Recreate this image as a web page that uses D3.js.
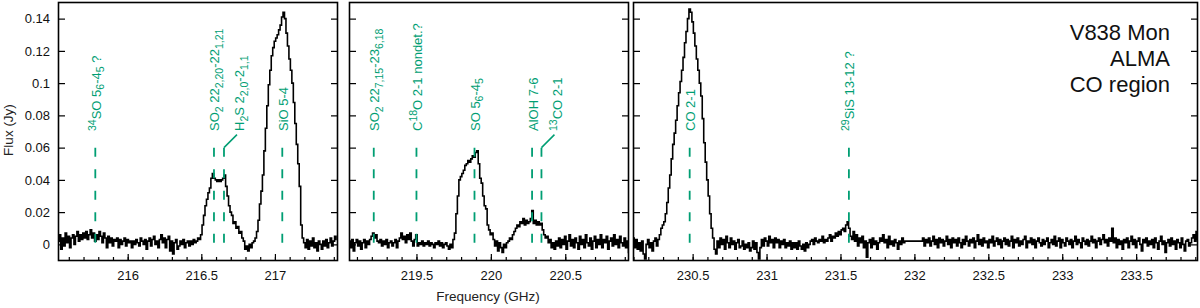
<!DOCTYPE html>
<html><head><meta charset="utf-8">
<script src="https://cdn.jsdelivr.net/npm/d3@7/dist/d3.min.js"></script>
<style>body{margin:0;background:#fff}svg{display:block;font-family:"Liberation Sans",Arial,sans-serif}</style>
</head><body><svg id="c" width="1200" height="308"></svg>
<script>
// ---- data ----
const chanStep = 0.01;               // channel width (GHz)
const p1Start = 215.53, p2Start = 219.05, p3Start = 230.10;
const flux1 = [
0.002,0.006,-0.003,0.004,-0.001,0.007,0.001,0.005,-0.002,0.004,
0.006,0.000,0.005,0.008,0.002,0.006,0.003,0.007,0.004,0.008,
0.003,0.006,0.009,0.004,0.007,0.002,0.006,0.003,0.008,0.005,
0.001,0.007,0.004,-0.002,0.005,0.001,0.004,-0.001,0.003,0.002,
0.004,-0.002,0.003,0.000,0.002,0.004,-0.001,0.003,0.001,0.002,
-0.002,0.002,0.000,0.003,0.001,-0.001,0.004,0.002,0.000,0.003,
-0.003,0.002,0.004,-0.001,0.003,0.005,0.000,0.002,-0.002,0.003,
0.006,0.001,0.004,-0.002,0.003,0.005,-0.004,0.002,-0.006,0.001,
0.003,-0.003,-0.001,0.002,0.000,0.003,-0.002,0.001,0.002,-0.001,
0.002,0.000,0.003,0.001,0.002,0.004,0.003,0.006,0.012,0.018,
0.024,0.028,0.032,0.035,0.041,0.044,0.041,0.040,0.039,0.040,
0.039,0.040,0.041,0.043,0.036,0.030,0.024,0.020,0.018,0.013,
0.014,0.010,0.011,0.007,0.008,0.004,0.002,-0.003,-0.001,-0.004,
0.000,-0.002,0.001,0.002,0.004,0.008,0.015,0.025,0.033,0.043,
0.058,0.072,0.086,0.099,0.108,0.117,0.122,0.126,0.128,0.130,
0.133,0.136,0.141,0.144,0.140,0.131,0.123,0.115,0.108,0.100,
0.088,0.075,0.062,0.050,0.036,0.012,0.004,0.001,-0.002,0.003,
-0.003,0.002,-0.001,0.004,-0.002,0.001,-0.004,0.002,0.000,-0.003,
0.002,-0.001,0.003,-0.002,0.001,0.004,-0.001,0.002,0.005,0.003];
const flux2 = [
0.002,-0.002,0.003,-0.004,0.001,0.003,-0.001,0.002,-0.003,0.001,
0.003,-0.002,0.002,0.000,0.003,0.005,0.007,0.004,0.006,0.002,
0.001,0.003,-0.001,0.002,0.000,0.003,-0.002,0.001,0.002,-0.001,
0.001,0.003,-0.002,0.002,0.004,0.007,0.003,0.005,0.001,0.006,
0.003,0.007,0.002,-0.001,0.003,0.006,-0.001,0.001,0.000,0.002,
-0.001,0.001,0.000,0.002,-0.001,0.001,0.000,-0.002,0.001,0.000,
0.002,-0.001,0.001,-0.002,0.000,0.001,-0.001,-0.003,0.000,-0.002,
0.003,0.007,0.019,0.030,0.040,0.042,0.044,0.046,0.049,0.050,
0.052,0.051,0.053,0.055,0.054,0.057,0.058,0.050,0.041,0.038,
0.030,0.024,0.022,0.012,0.009,0.006,0.007,0.003,-0.001,0.002,
-0.004,0.001,-0.002,-0.005,0.000,-0.002,0.001,0.002,0.004,0.003,
0.006,0.008,0.010,0.012,0.011,0.014,0.013,0.016,0.012,0.015,
0.013,0.014,0.016,0.021,0.013,0.015,0.012,0.014,0.012,0.013,
0.009,0.006,0.004,0.005,0.001,0.003,-0.002,0.001,-0.003,0.002,
-0.001,0.004,-0.002,0.003,0.000,0.005,-0.003,0.002,0.006,-0.001,
0.003,-0.002,0.004,0.001,-0.003,0.005,0.000,0.003,-0.002,0.006,
0.001,-0.001,0.004,-0.003,0.002,0.005,-0.002,0.003,0.000,0.006,
-0.002,0.003,0.001,0.005,-0.003,0.002,0.004,-0.001,0.006,0.000,
0.003,-0.002,0.005,0.001,-0.001,0.004,-0.002,0.002,-0.005,0.003];
const flux3 = [
0.004,-0.002,0.003,-0.003,0.001,-0.004,0.002,-0.006,-0.009,0.000,
0.003,-0.002,0.001,-0.004,0.002,0.004,-0.001,0.003,0.006,0.010,
0.012,0.014,0.019,0.026,0.035,0.043,0.053,0.062,0.069,0.077,
0.086,0.094,0.101,0.108,0.116,0.125,0.132,0.140,0.146,0.144,
0.138,0.131,0.123,0.115,0.108,0.100,0.092,0.078,0.063,0.051,
0.040,0.030,0.019,0.010,0.004,-0.003,-0.006,0.002,-0.002,0.004,
0.000,0.003,-0.003,0.005,0.001,-0.002,0.004,0.000,0.002,-0.003,
0.001,0.003,-0.002,-0.001,0.002,-0.003,0.000,-0.002,0.001,-0.004,
-0.002,0.002,-0.003,0.001,-0.005,-0.009,-0.002,0.003,-0.001,0.004,
0.002,-0.001,0.005,0.001,0.003,-0.002,0.004,0.001,0.003,-0.002,
0.002,0.000,0.003,-0.002,0.001,-0.001,0.002,-0.003,0.001,-0.002,
0.001,-0.003,0.002,-0.001,-0.003,0.000,-0.004,0.001,-0.002,0.000,
0.002,0.003,0.000,0.004,0.002,0.001,0.003,0.002,0.005,0.001,
0.003,0.002,0.004,0.006,0.002,0.005,0.004,0.007,0.005,0.008,
0.006,0.009,0.010,0.008,0.012,0.014,0.010,0.005,0.003,0.008,
0.002,0.006,-0.001,0.004,0.001,0.005,-0.002,0.002,-0.008,0.001,
0.003,-0.002,0.004,0.000,0.002,-0.003,0.001,0.004,0.002,0.006,
0.001,0.003,-0.002,0.005,0.000,0.002,-0.001,0.003,0.001,-0.003,
0.002,0.000,0.004,0.001,0.002,0.002,0.002,0.002,0.002,0.002,
0.002,0.002,0.002,0.002,0.002,0.002,0.004,-0.001,0.003,0.001,
0.004,-0.001,0.002,0.005,0.000,0.003,-0.002,0.004,0.001,0.003,
-0.001,0.002,0.005,0.000,0.003,-0.002,0.004,0.001,0.003,-0.001,
0.004,0.001,-0.002,0.003,0.000,0.005,0.002,-0.001,0.003,0.001,
0.004,-0.002,0.002,0.006,0.000,0.003,-0.001,0.004,0.001,0.002,
-0.002,0.003,0.001,0.005,-0.001,0.002,0.004,0.000,0.003,-0.002,
0.002,0.004,0.000,0.003,-0.001,0.002,0.005,-0.002,0.003,0.001,
0.004,-0.001,0.002,0.000,0.003,0.005,-0.002,0.002,0.001,0.004,
0.000,0.003,-0.002,0.002,0.004,0.001,-0.001,0.003,0.000,0.002,
0.004,-0.002,0.001,0.003,0.000,0.005,-0.001,0.002,0.004,-0.002,
0.003,0.001,-0.001,0.004,0.002,0.000,0.003,-0.002,0.002,0.005,
0.000,0.003,0.001,-0.002,0.004,0.002,0.000,0.003,-0.001,0.002,
0.005,0.001,0.003,-0.002,0.002,0.004,0.000,0.003,0.006,0.001,
0.003,-0.001,0.004,0.002,0.010,0.001,0.004,-0.002,0.003,0.000,
0.002,-0.003,0.003,0.001,0.004,-0.002,0.002,0.005,0.000,0.003,
-0.002,0.002,0.004,0.000,-0.004,0.003,0.001,0.004,-0.001,0.002,
0.000,0.003,-0.002,0.004,0.001,-0.003,0.002,0.005,0.000,0.002,
-0.005,0.001,0.003,-0.001,0.004,0.000,0.002,-0.003,0.003,0.001,
-0.002,0.004,0.000,-0.004,0.002,0.003,-0.001,0.001,0.004,0.006,
0.002,0.008,0.003];
const xTicks1 = [216, 216.5, 217];
const xTicks2 = [219.5, 220, 220.5];
const xTicks3 = [230.5, 231, 231.5, 232, 232.5, 233, 233.5];
const yTicks = [0, 0.02, 0.04, 0.06, 0.08, 0.1, 0.12, 0.14];
const yTickLabels = ["0","0.02","0.04","0.06","0.08","0.1","0.12","0.14"];
const lineFreq1 = [215.78, 216.586, 216.654, 217.05];
const lineLab1 = ["^{34}SO 5_{6}-4_{5} ?", "SO_{2} 22_{2,20}-22_{1,21}", "H_{2}S 2_{2,0}-2_{1,1}", "SiO 5-4"];
const lineLead1 = [false, false, true, false];
const lineFreq2 = [219.213, 219.50, 219.89, 220.277, 220.34];
const lineLab2 = ["SO_{2} 22_{7,15}-23_{6,18}", "C^{18}O 2-1 nondet.?", "SO 5_{6}-4_{5}", "AlOH 7-6", "^{13}CO 2-1"];
const lineLead2 = [false, false, false, false, true];
const lineFreq3 = [230.48, 231.557];
const lineLab3 = ["CO 2-1", "^{29}SiS 13-12 ?"];
const lineLead3 = [false, false];
const titleLines = ["V838 Mon", "ALMA", "CO region"];
const xTitle = "Frequency (GHz)";
const yTitle = "Flux (Jy)";

// ---- layout ----
const green = "#009e73";
const svg = d3.select("#c");
const yTop = 2.5, yBot = 260.5;
const y = d3.scaleLinear().domain([-0.01, 0.15]).range([yBot, yTop]);
const panels = [
  {dom:[215.53,217.425], px:[58.5,337.5], flux:flux1, start:p1Start, ticks:xTicks1, lf:lineFreq1, ll:lineLab1, lead:lineLead1, ylab:true},
  {dom:[219.05,220.925], px:[349.5,628.5], flux:flux2, start:p2Start, ticks:xTicks2, lf:lineFreq2, ll:lineLab2, lead:lineLead2, ylab:false},
  {dom:[230.10,233.915], px:[633.5,1197.5], flux:flux3, start:p3Start, ticks:xTicks3, lf:lineFreq3, ll:lineLab3, lead:lineLead3, ylab:false}
];

function richText(sel, str, base, small) {
  const parts = str.match(/(\^\{[^}]*\}|_\{[^}]*\}|[^_^]+)/g);
  let shift = 0;
  parts.forEach(p => {
    let s = 0, fs = base, txt = p;
    if (p.startsWith("^{")) { s = -5; fs = small; txt = p.slice(2, -1); }
    else if (p.startsWith("_{")) { s = 3.5; fs = small; txt = p.slice(2, -1); }
    sel.append("tspan").attr("dy", s - shift).attr("font-size", fs).text(txt);
    shift = s;
  });
}

panels.forEach((P, pi) => {
  const x = d3.scaleLinear().domain(P.dom).range(P.px);
  const g = svg.append("g");
  const cid = "clip" + pi;
  svg.append("clipPath").attr("id", cid).append("rect")
    .attr("x", P.px[0]).attr("y", yTop).attr("width", P.px[1]-P.px[0]).attr("height", yBot-yTop);

  const minor = d3.range(Math.ceil(P.dom[0]*10), Math.floor(P.dom[1]*10)+1).map(v => v/10);
  g.append("g").attr("transform", `translate(0,${yBot})`)
    .call(d3.axisBottom(x).tickValues(minor).tickSizeInner(-3.5).tickSizeOuter(0).tickFormat(""))
    .call(a => a.select(".domain").remove())
    .call(a => a.selectAll("line").attr("stroke", "#000").attr("stroke-width", 1.2));
  g.append("g").attr("transform", `translate(0,${yBot})`)
    .call(d3.axisBottom(x).tickValues(P.ticks).tickSizeInner(-6.5).tickSizeOuter(0).tickPadding(10).tickFormat(d => String(d)))
    .call(a => a.select(".domain").remove())
    .call(a => a.selectAll("line").attr("stroke", "#000").attr("stroke-width", 1.2))
    .call(a => a.selectAll("text").attr("font-size", 13).attr("fill", "#111").attr("font-family", "Liberation Sans, Arial, sans-serif"));
  g.append("g").attr("transform", `translate(${P.px[0]},0)`)
    .call(d3.axisLeft(y).tickValues(yTicks).tickSizeInner(-6.5).tickSizeOuter(0).tickPadding(8.5)
      .tickFormat((d, i) => P.ylab ? yTickLabels[i] : ""))
    .call(a => a.select(".domain").remove())
    .call(a => a.selectAll("line").attr("stroke", "#000").attr("stroke-width", 1.2))
    .call(a => a.selectAll("text").attr("font-size", 13).attr("fill", "#111").attr("font-family", "Liberation Sans, Arial, sans-serif"));
  g.append("g").attr("transform", `translate(${P.px[1]},0)`)
    .call(d3.axisRight(y).tickValues(yTicks).tickSizeInner(-6.5).tickSizeOuter(0).tickFormat(""))
    .call(a => a.select(".domain").remove())
    .call(a => a.selectAll("line").attr("stroke", "#000").attr("stroke-width", 1.2));

  const pts = P.flux.map((v, i) => [P.start + i*chanStep, v]);
  const line = d3.line().x(d => x(d[0])).y(d => y(d[1])).curve(d3.curveStep);
  g.append("path").attr("d", line(pts)).attr("fill", "none").attr("stroke", "#000")
    .attr("stroke-width", 1.6).attr("stroke-linejoin", "miter").attr("clip-path", `url(#${cid})`);

  P.lf.forEach((f, i) => {
    const xl = x(f);
    g.append("line").attr("x1", xl).attr("x2", xl).attr("y1", y(0.06)).attr("y2", y(0))
      .attr("stroke", green).attr("stroke-width", 1.8).attr("stroke-dasharray", "9,12.5");
    let xt = xl;
    if (P.lead[i]) {
      g.append("line").attr("x1", xl).attr("y1", y(0.06)).attr("x2", xl+13).attr("y2", y(0.06)-13)
        .attr("stroke", green).attr("stroke-width", 1.5);
      xt = xl + 15;
    }
    const t = g.append("text").attr("transform", `translate(${xt+5.5},131) rotate(-90)`)
      .attr("fill", green).attr("font-size", 13);
    richText(t, P.ll[i], 13, 10.5);
  });

  g.append("rect").attr("x", P.px[0]).attr("y", yTop).attr("width", P.px[1]-P.px[0]).attr("height", yBot-yTop)
    .attr("fill", "none").attr("stroke", "#000").attr("stroke-width", 1.6);
});

svg.append("text").attr("transform", "translate(13,130) rotate(-90)").attr("text-anchor", "middle")
  .attr("font-size", 13.5).attr("fill", "#222").text(yTitle);
svg.append("text").attr("x", 488).attr("y", 301).attr("text-anchor", "middle")
  .attr("font-size", 13.5).attr("fill", "#222").text(xTitle);
svg.append("g").selectAll("text").data(titleLines).join("text")
  .attr("x", 1170).attr("y", (d, i) => 40 + i*26).attr("text-anchor", "end")
  .attr("font-size", 22).attr("fill", "#111").text(d => d);
</script></body></html>
